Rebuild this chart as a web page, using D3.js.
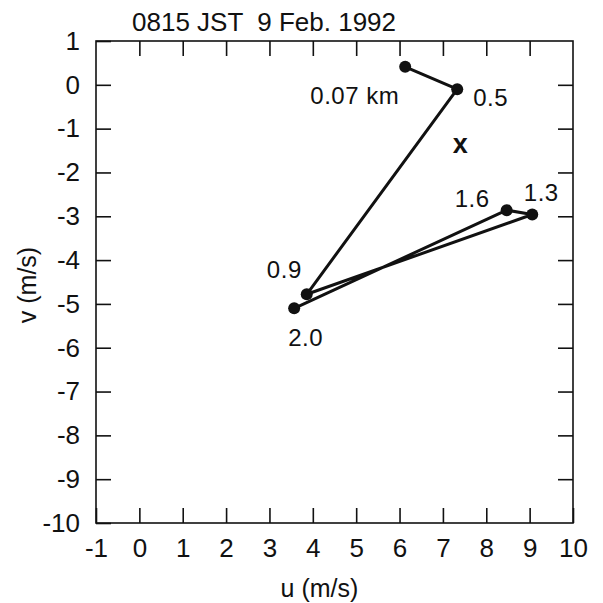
<html>
  <head>
    <meta charset="utf-8">
    <style>
body { margin: 0; background: #fff; }
text { font-family: "Liberation Sans", Arial, Helvetica, sans-serif; fill: #111; }
.axis path { display: none; }
.axis line { stroke: #111; stroke-width: 1.6; }
.axis text { font-size: 26px; font-family: "Liberation Sans", Arial, Helvetica, sans-serif; fill: #111; }
    </style>
    <script src="https://d3js.org/d3.v7.min.js"></script>
  </head>
  <body>
    <svg width="603" height="603"></svg>
    <script>

// hodograph points, height labels in km
var heights = ["0.07 km", "0.5", "0.9", "1.3", "1.6", "2.0"];
var uWind = [6.13, 7.33, 3.86, 9.06, 8.47, 3.57];
var vWind = [0.41, -0.10, -4.78, -2.96, -2.86, -5.10];
// the "x" marker
var markU = [7.40], markV = [-1.39];
var xTicks = [-1, 0, 1, 2, 3, 4, 5, 6, 7, 8, 9, 10];
var yTicks = [1, 0, -1, -2, -3, -4, -5, -6, -7, -8, -9, -10];

// label placement around each point (pixels)
var labelPos = [
  {dx: -6, dy: 37, anchor: "end"},
  {dx: 16, dy: 17, anchor: "start"},
  {dx: -5, dy: -16, anchor: "end"},
  {dx: 9, dy: -14, anchor: "middle"},
  {dx: -17, dy: -3, anchor: "end"},
  {dx: -6, dy: 38, anchor: "start"}
];

var svg = d3.select("svg"),
    box = {left: 96, right: 573, top: 41, bottom: 523};

var x = d3.scaleLinear().domain([-1, 10]).range([box.left, box.right]),
    y = d3.scaleLinear().domain([-10, 1]).range([box.bottom, box.top]);

var pts = uWind.map(function(u, i) { return {u: u, v: vWind[i], label: heights[i]}; });

// axes: ticks point inward on all four sides
svg.append("g").attr("class", "axis")
  .attr("transform", "translate(0," + box.bottom + ")")
  .call(d3.axisBottom(x).tickValues(xTicks).tickSize(-15).tickPadding(15.5).tickFormat(function(d) { return String(d); }));
svg.append("g").attr("class", "axis")
  .attr("transform", "translate(0," + box.top + ")")
  .call(d3.axisTop(x).tickValues(xTicks.slice(1, -1)).tickSize(-15).tickFormat(""));
svg.append("g").attr("class", "axis")
  .attr("transform", "translate(" + box.left + ",0)")
  .call(d3.axisLeft(y).tickValues(yTicks).tickSize(-15).tickPadding(16).tickFormat(function(d) { return String(d); }));
svg.append("g").attr("class", "axis")
  .attr("transform", "translate(" + box.right + ",0)")
  .call(d3.axisRight(y).tickValues(yTicks.slice(1, -1)).tickSize(-15).tickFormat(""));

svg.append("rect")
  .attr("x", box.left).attr("y", box.top)
  .attr("width", box.right - box.left).attr("height", box.bottom - box.top)
  .attr("fill", "none").attr("stroke", "#111").attr("stroke-width", 1.6);

// hodograph line and points
var line = d3.line().x(function(d) { return x(d.u); }).y(function(d) { return y(d.v); });
svg.append("path").datum(pts)
  .attr("d", line)
  .attr("fill", "none").attr("stroke", "#111").attr("stroke-width", 3)
  .attr("stroke-linejoin", "round");

svg.selectAll(".pt").data(pts).enter().append("circle")
  .attr("class", "pt")
  .attr("cx", function(d) { return x(d.u); })
  .attr("cy", function(d) { return y(d.v); })
  .attr("r", 6).attr("fill", "#111");

svg.selectAll(".lbl").data(pts).enter().append("text")
  .attr("class", "lbl")
  .attr("x", function(d, i) { return x(d.u) + labelPos[i].dx; })
  .attr("y", function(d, i) { return y(d.v) + labelPos[i].dy; })
  .attr("text-anchor", function(d, i) { return labelPos[i].anchor; })
  .style("font-size", "24px")
  .style("letter-spacing", "0.5px")
  .text(function(d) { return d.label; });

svg.append("text")
  .attr("x", x(markU[0])).attr("y", y(markV[0]) + 7.5)
  .attr("text-anchor", "middle")
  .style("font-size", "27px").style("font-weight", "bold")
  .text("x");

// title and axis labels
svg.append("text")
  .attr("x", 132).attr("y", 31)
  .style("font-size", "26px").style("white-space", "pre")
  .text("0815 JST  9 Feb. 1992");

svg.append("text")
  .attr("x", (box.left + box.right) / 2 - 15).attr("y", 597)
  .attr("text-anchor", "middle")
  .style("font-size", "25px")
  .text("u (m/s)");

svg.append("text")
  .attr("transform", "translate(36," + (box.top + box.bottom) / 2 + ") rotate(-90)")
  .attr("x", -3)
  .attr("text-anchor", "middle")
  .style("font-size", "25px")
  .text("v (m/s)");

    </script>
  </body>
</html>
